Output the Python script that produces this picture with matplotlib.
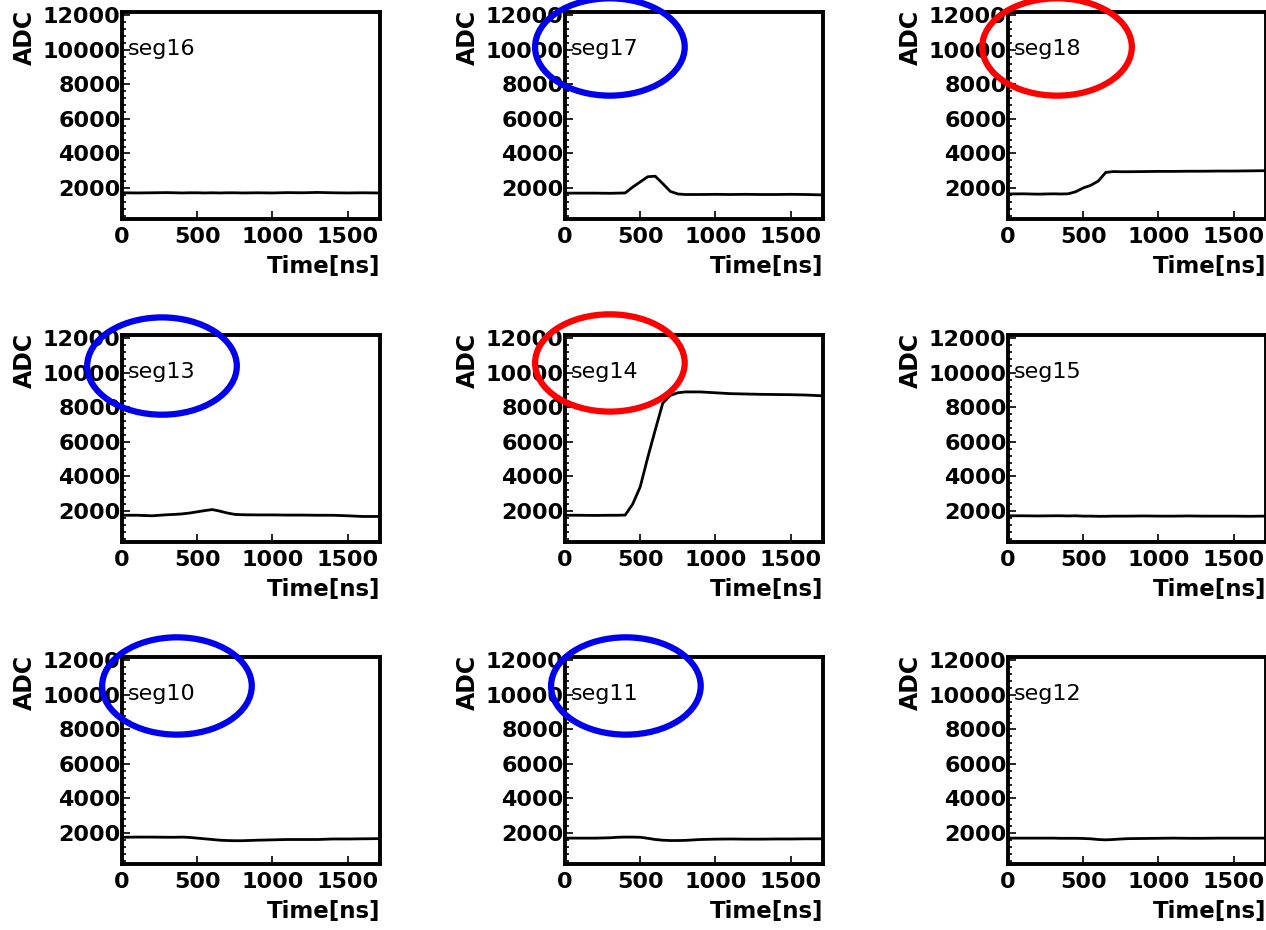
import numpy as np
import matplotlib
matplotlib.use("Agg")
import matplotlib.pyplot as plt
from matplotlib.patches import Ellipse
from matplotlib.ticker import MultipleLocator

# sample times [ns]
time_ns = [0, 100, 200, 300, 350, 400, 450, 500, 550, 600, 650, 700, 750,
           800, 900, 1000, 1100, 1200, 1300, 1400, 1500, 1600, 1700]

# ADC waveforms per segment
seg16 = [1720, 1710, 1720, 1730, 1720, 1710, 1720, 1720, 1710, 1720, 1710, 1720, 1720,
         1710, 1720, 1710, 1730, 1720, 1740, 1720, 1710, 1720, 1710]
seg17 = [1700, 1700, 1700, 1690, 1700, 1710, 2050, 2350, 2650, 2680, 2250, 1800, 1650,
         1620, 1620, 1630, 1620, 1630, 1620, 1620, 1630, 1620, 1600]
seg18 = [1650, 1660, 1640, 1660, 1650, 1660, 1780, 2000, 2150, 2400, 2900, 2950, 2940,
         2940, 2950, 2960, 2960, 2970, 2970, 2980, 2980, 2990, 3000]
seg13 = [1750, 1750, 1720, 1780, 1800, 1830, 1880, 1950, 2020, 2080, 1990, 1880, 1800,
         1780, 1770, 1770, 1760, 1760, 1750, 1750, 1720, 1680, 1680]
seg14 = [1750, 1750, 1740, 1750, 1750, 1760, 2400, 3400, 5100, 6700, 8250, 8700, 8850,
         8900, 8900, 8850, 8800, 8780, 8760, 8750, 8740, 8720, 8680]
seg15 = [1720, 1720, 1710, 1720, 1720, 1710, 1720, 1700, 1700, 1690, 1690, 1700, 1700,
         1700, 1710, 1700, 1700, 1710, 1700, 1700, 1700, 1690, 1700]
seg10 = [1750, 1760, 1760, 1750, 1750, 1760, 1740, 1700, 1660, 1620, 1580, 1560, 1550,
         1550, 1580, 1600, 1620, 1620, 1620, 1650, 1650, 1660, 1670]
seg11 = [1700, 1700, 1700, 1720, 1750, 1760, 1760, 1750, 1690, 1620, 1580, 1560, 1560,
         1570, 1620, 1640, 1650, 1640, 1640, 1650, 1650, 1660, 1660]
seg12 = [1700, 1700, 1700, 1700, 1690, 1690, 1690, 1680, 1660, 1620, 1600, 1620, 1650,
         1670, 1680, 1690, 1700, 1690, 1690, 1700, 1700, 1700, 1700]

grid = [["seg16", "seg17", "seg18"],
        ["seg13", "seg14", "seg15"],
        ["seg10", "seg11", "seg12"]]
waves = {"seg16": seg16, "seg17": seg17, "seg18": seg18,
         "seg13": seg13, "seg14": seg14, "seg15": seg15,
         "seg10": seg10, "seg11": seg11, "seg12": seg12}

# hand-drawn ellipses: segment -> (colour, centre in axes fraction)
circled = {"seg17": ("#0000ee", (0.174, 0.831)),
           "seg18": ("#ff0000", (0.190, 0.831)),
           "seg13": ("#0000ee", (0.155, 0.850)),
           "seg14": ("#ff0000", (0.174, 0.865)),
           "seg10": ("#0000ee", (0.213, 0.860)),
           "seg11": ("#0000ee", (0.236, 0.860))}

plt.rcParams['font.family'] = ['DejaVu Sans']

W, H = 1266, 930
fig = plt.figure(figsize=(W / 100, H / 100), dpi=100)

col_left = [122, 565, 1008]
row_top = [12, 335, 657]
ax_w, ax_h = 258, 207

for r in range(3):
    for c in range(3):
        name = grid[r][c]
        ax = fig.add_axes([col_left[c] / W, 1 - (row_top[r] + ax_h) / H,
                           ax_w / W, ax_h / H])
        ax.plot(time_ns, waves[name], color="black", lw=2.0)
        ax.set_xlim(0, 1715)
        ax.set_ylim(200, 12200)
        ax.set_yticks([2000, 4000, 6000, 8000, 10000, 12000])
        ax.set_xticks([0, 500, 1000, 1500])
        ax.yaxis.set_minor_locator(MultipleLocator(400))
        ax.tick_params(axis="both", which="both", direction="in", width=1.2,
                       labelsize=16)
        ax.tick_params(axis="y", which="major", length=6, pad=1)
        ax.tick_params(axis="y", which="minor", length=3)
        ax.tick_params(axis="x", which="major", length=6, pad=6)
        for lab in ax.get_xticklabels() + ax.get_yticklabels():
            lab.set_fontweight("bold")
        for sp in ax.spines.values():
            sp.set_linewidth(2.8)

        ax.set_ylabel("ADC", loc="top", fontsize=17, fontweight="bold")
        ax.yaxis.set_label_coords(-0.33, 1.01)
        ax.set_xlabel("Time[ns]", loc="right", fontsize=16.5, fontweight="bold")
        ax.xaxis.set_label_coords(1.0, -0.175)

        ax.text(0.023, 0.82, name, transform=ax.transAxes, fontsize=16,
                ha="left", va="center")

        if name in circled:
            col, (cx, cy) = circled[name]
            ax.add_patch(Ellipse((cx, cy), 0.58, 0.47, transform=ax.transAxes,
                                 fill=False, edgecolor=col, lw=4.5,
                                 clip_on=False, zorder=5))

fig.savefig("out.png", dpi=100)
